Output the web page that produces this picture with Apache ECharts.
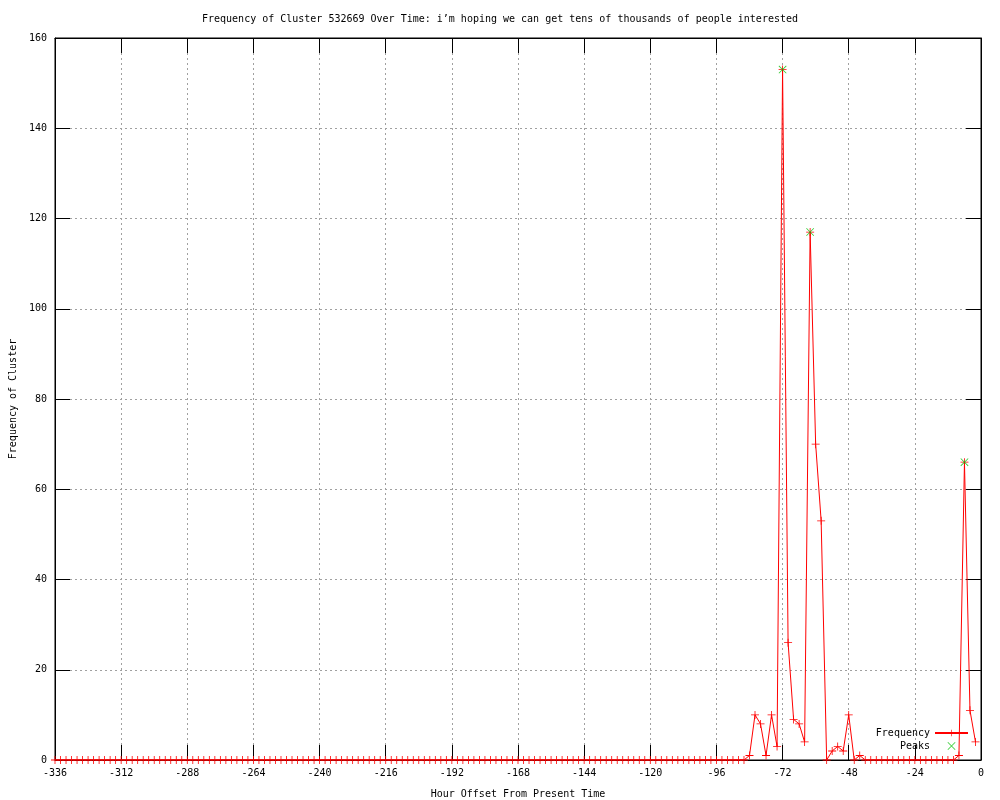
<!DOCTYPE html>
<html>
<head>
<meta charset="utf-8">
<script src="https://cdn.jsdelivr.net/npm/echarts@6/dist/echarts.min.js"></script>
<style>
html,body{margin:0;padding:0;background:#fff;}
#chart{width:1000px;height:800px;}
</style>
</head>
<body>
<div id="chart"></div>
<script>
var titleText = "Frequency of Cluster 532669 Over Time: i\u2019m hoping we can get tens of thousands of people interested";
var xAxisName = "Hour Offset From Present Time";
var yAxisName = "Frequency of Cluster";

var hours = [
-336,-334,-332,-330,-328,-326,-324,-322,-320,-318,-316,-314,
-312,-310,-308,-306,-304,-302,-300,-298,-296,-294,-292,-290,
-288,-286,-284,-282,-280,-278,-276,-274,-272,-270,-268,-266,
-264,-262,-260,-258,-256,-254,-252,-250,-248,-246,-244,-242,
-240,-238,-236,-234,-232,-230,-228,-226,-224,-222,-220,-218,
-216,-214,-212,-210,-208,-206,-204,-202,-200,-198,-196,-194,
-192,-190,-188,-186,-184,-182,-180,-178,-176,-174,-172,-170,
-168,-166,-164,-162,-160,-158,-156,-154,-152,-150,-148,-146,
-144,-142,-140,-138,-136,-134,-132,-130,-128,-126,-124,-122,
-120,-118,-116,-114,-112,-110,-108,-106,-104,-102,-100,-98,
-96,-94,-92,-90,-88,-86,-84,-82,-80,-78,-76,-74,
-72,-70,-68,-66,-64,-62,-60,-58,-56,-54,-52,-50,
-48,-46,-44,-42,-40,-38,-36,-34,-32,-30,-28,-26,
-24,-22,-20,-18,-16,-14,-12,-10,-8,-6,-4,-2
];

var frequency = [
0,0,0,0,0,0,0,0,0,0,0,0,
0,0,0,0,0,0,0,0,0,0,0,0,
0,0,0,0,0,0,0,0,0,0,0,0,
0,0,0,0,0,0,0,0,0,0,0,0,
0,0,0,0,0,0,0,0,0,0,0,0,
0,0,0,0,0,0,0,0,0,0,0,0,
0,0,0,0,0,0,0,0,0,0,0,0,
0,0,0,0,0,0,0,0,0,0,0,0,
0,0,0,0,0,0,0,0,0,0,0,0,
0,0,0,0,0,0,0,0,0,0,0,0,
0,0,0,0,0,0,1,10,8,1,10,3,
153,26,9,8,4,117,70,53,0,2,3,2,
10,0,1,0,0,0,0,0,0,0,0,0,
0,0,0,0,0,0,0,0,1,66,11,4
];

var peakHours = [-72, -62, -6];
var peakValues = [153, 117, 66];

var xTicks = {min: -336, max: 0, interval: 24};
var yTicks = {min: 0, max: 160, interval: 20};

var freqData = hours.map(function (h, i) { return [h, frequency[i]]; });
var peakData = peakHours.map(function (h, i) { return [h, peakValues[i]]; });

var FONT = "DejaVu Sans Mono";
var plusPath = 'path://M0,4.5H10V5.5H0Z M4.5,0H5.5V10H4.5Z';
var crossPath = 'path://M0,0.7L0.7,0L10,9.3L9.3,10Z M9.3,0L10,0.7L0.7,10L0,9.3Z';

var chart = echarts.init(document.getElementById('chart'), null, {renderer: 'canvas'});
var tickInside = {show: true, inside: true, length: 15, lineStyle: {color: '#000', width: 1}};
var axisLineStyle = {show: true, onZero: false, lineStyle: {color: '#000', width: 1}};
var option = {
  animation: false,
  backgroundColor: '#fff',
  title: {
    text: titleText,
    left: 'center',
    top: 9,
    textStyle: {fontFamily: FONT, fontSize: 10, fontWeight: 'normal', color: '#000'}
  },
  grid: {left: 55, right: 19, top: 38, bottom: 40, show: true, borderColor: '#000', borderWidth: 1,
         containLabel: false, outerBoundsMode: 'none'},
  legend: {
    orient: 'vertical',
    right: 31,
    top: 727,
    padding: 0,
    align: 'right',
    itemWidth: 33,
    itemHeight: 8,
    itemGap: 1,
    textStyle: {fontFamily: FONT, fontSize: 10, color: '#000', lineHeight: 12},
    data: ['Frequency', 'Peaks']
  },
  xAxis: [{
    type: 'value',
    position: 'bottom',
    min: xTicks.min, max: xTicks.max, interval: xTicks.interval,
    name: xAxisName,
    nameLocation: 'middle',
    nameGap: 29,
    nameTextStyle: {fontFamily: FONT, fontSize: 10, color: '#000'},
    axisLine: axisLineStyle,
    axisTick: tickInside,
    axisLabel: {fontFamily: FONT, fontSize: 10, color: '#000', margin: 8},
    splitLine: {show: true, lineStyle: {color: '#a0a0a0', type: [2, 3], width: 1}}
  }, {
    type: 'value',
    position: 'top',
    min: xTicks.min, max: xTicks.max, interval: xTicks.interval,
    axisLine: axisLineStyle,
    axisTick: tickInside,
    axisLabel: {show: false},
    splitLine: {show: false}
  }],
  yAxis: [{
    type: 'value',
    position: 'left',
    min: yTicks.min, max: yTicks.max, interval: yTicks.interval,
    name: yAxisName,
    nameLocation: 'middle',
    nameGap: 36,
    nameTextStyle: {fontFamily: FONT, fontSize: 10, color: '#000'},
    axisLine: axisLineStyle,
    axisTick: tickInside,
    axisLabel: {fontFamily: FONT, fontSize: 10, color: '#000', margin: 8},
    splitLine: {show: true, lineStyle: {color: '#a0a0a0', type: [2, 3], width: 1}}
  }, {
    type: 'value',
    position: 'right',
    min: yTicks.min, max: yTicks.max, interval: yTicks.interval,
    axisLine: axisLineStyle,
    axisTick: tickInside,
    axisLabel: {show: false},
    splitLine: {show: false}
  }],
  series: [{
    name: 'Frequency',
    type: 'line',
    xAxisIndex: 0, yAxisIndex: 0,
    data: freqData,
    symbol: plusPath,
    symbolSize: 8,
    showAllSymbol: true,
    color: '#ff0000',
    lineStyle: {color: '#ff0000', width: 1},
    itemStyle: {color: '#ff0000'},
    emphasis: {disabled: true}
  }, {
    name: 'Peaks',
    type: 'scatter',
    xAxisIndex: 0, yAxisIndex: 0,
    data: peakData,
    symbol: crossPath,
    symbolSize: 8,
    color: '#00c000',
    itemStyle: {color: '#00c000'},
    z: 3,
    emphasis: {disabled: true}
  }]
};
chart.setOption(option);
</script>
</body>
</html>
